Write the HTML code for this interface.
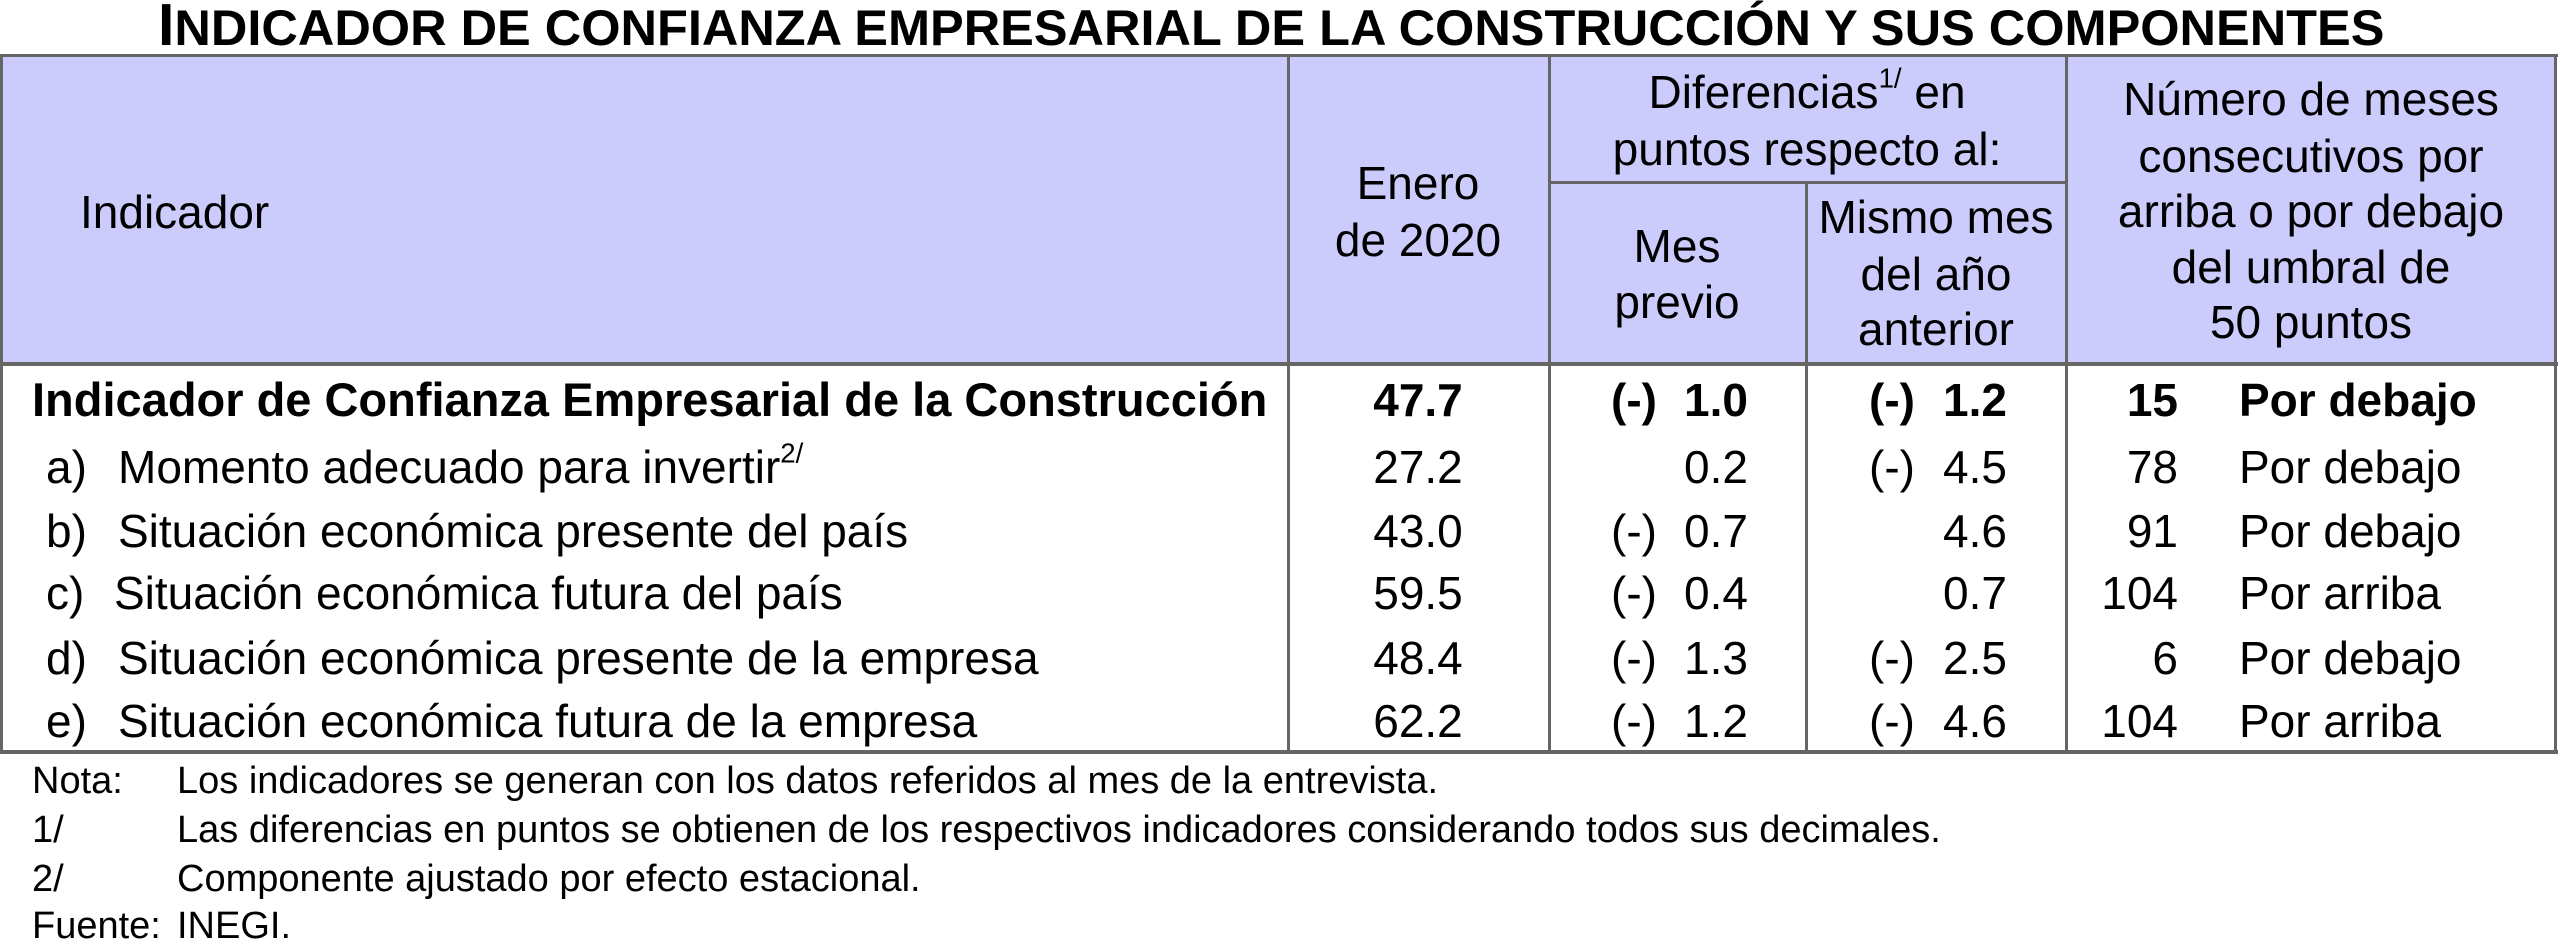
<!DOCTYPE html>
<html><head><meta charset="utf-8"><style>
html,body{margin:0;padding:0;background:#fff;}
body{width:2560px;height:949px;position:relative;overflow:hidden;font-family:"Liberation Sans",Arial,sans-serif;color:#000;}
.t{position:absolute;white-space:nowrap;font-size:46px;line-height:46px;}
.c{transform:translateX(-50%);}
.r{transform:translateX(-100%);}
.b{font-weight:bold;}
.f{font-size:38px;line-height:38px;}
.h{position:absolute;background:#666;}
sup{font-size:0.6em;line-height:0;vertical-align:0.75em;}
#title{position:absolute;left:158px;top:-4px;font-weight:bold;font-size:50.5px;line-height:59px;white-space:nowrap;}
#title .L{font-size:59px;}
</style></head><body>
<div style="position:absolute;left:0;top:55px;width:2556px;height:309px;background:#ccccfc;"></div>
<div id="title"><span class="L">I</span>NDICADOR DE CONFIANZA EMPRESARIAL DE LA CONSTRUCCIÓN Y SUS COMPONENTES</div>

<!-- lines -->
<div class="h" style="left:0;top:54px;width:2558px;height:3px"></div>
<div class="h" style="left:0;top:362px;width:2558px;height:4px"></div>
<div class="h" style="left:0;top:750px;width:2558px;height:4px"></div>
<div class="h" style="left:1549px;top:181px;width:518px;height:3px"></div>
<div class="h" style="left:0;top:55px;width:3px;height:698px"></div>
<div class="h" style="left:1287px;top:55px;width:3px;height:698px"></div>
<div class="h" style="left:1548px;top:55px;width:3px;height:698px"></div>
<div class="h" style="left:1805px;top:182px;width:3px;height:571px"></div>
<div class="h" style="left:2065px;top:55px;width:3px;height:698px"></div>
<div class="h" style="left:2554px;top:55px;width:3px;height:698px"></div>

<!-- header -->
<div class="t" style="left:80px;top:189px">Indicador</div>
<div class="t c" style="left:1418px;top:160px">Enero</div>
<div class="t c" style="left:1418px;top:217px">de 2020</div>
<div class="t c" style="left:1807px;top:69px">Diferencias<sup>1/</sup> en</div>
<div class="t c" style="left:1807px;top:126px">puntos respecto al:</div>
<div class="t c" style="left:1677px;top:223px">Mes</div>
<div class="t c" style="left:1677px;top:279px">previo</div>
<div class="t c" style="left:1936px;top:194px">Mismo mes</div>
<div class="t c" style="left:1936px;top:251px">del año</div>
<div class="t c" style="left:1936px;top:306px">anterior</div>
<div class="t c" style="left:2311px;top:76px">Número de meses</div>
<div class="t c" style="left:2311px;top:133px">consecutivos por</div>
<div class="t c" style="left:2311px;top:188px">arriba o por debajo</div>
<div class="t c" style="left:2311px;top:244px">del umbral de</div>
<div class="t c" style="left:2311px;top:299px">50 puntos</div>

<!-- rows -->
<div class="t b" style="left:32px;top:377px;font-size:47px">Indicador de Confianza Empresarial de la Construcción</div>
<div class="t b c" style="left:1418px;top:377px">47.7</div>
<div class="t b" style="left:1611px;top:377px">(-)</div><div class="t b r" style="left:1748px;top:377px">1.0</div>
<div class="t b" style="left:1869px;top:377px">(-)</div><div class="t b r" style="left:2007px;top:377px">1.2</div>
<div class="t b r" style="left:2178px;top:377px">15</div><div class="t b" style="left:2239px;top:377px">Por debajo</div>

<div class="t" style="left:46px;top:444px">a)</div><div class="t" style="left:118px;top:444px">Momento adecuado para invertir<sup>2/</sup></div>
<div class="t c" style="left:1418px;top:444px">27.2</div>
<div class="t r" style="left:1748px;top:444px">0.2</div>
<div class="t" style="left:1869px;top:444px">(-)</div><div class="t r" style="left:2007px;top:444px">4.5</div>
<div class="t r" style="left:2178px;top:444px">78</div><div class="t" style="left:2239px;top:444px">Por debajo</div>

<div class="t" style="left:46px;top:508px">b)</div><div class="t" style="left:118px;top:508px">Situación económica presente del país</div>
<div class="t c" style="left:1418px;top:508px">43.0</div>
<div class="t" style="left:1611px;top:508px">(-)</div><div class="t r" style="left:1748px;top:508px">0.7</div>
<div class="t r" style="left:2007px;top:508px">4.6</div>
<div class="t r" style="left:2178px;top:508px">91</div><div class="t" style="left:2239px;top:508px">Por debajo</div>

<div class="t" style="left:46px;top:570px">c)</div><div class="t" style="left:114px;top:570px">Situación económica futura del país</div>
<div class="t c" style="left:1418px;top:570px">59.5</div>
<div class="t" style="left:1611px;top:570px">(-)</div><div class="t r" style="left:1748px;top:570px">0.4</div>
<div class="t r" style="left:2007px;top:570px">0.7</div>
<div class="t r" style="left:2178px;top:570px">104</div><div class="t" style="left:2239px;top:570px">Por arriba</div>

<div class="t" style="left:46px;top:635px">d)</div><div class="t" style="left:118px;top:635px">Situación económica presente de la empresa</div>
<div class="t c" style="left:1418px;top:635px">48.4</div>
<div class="t" style="left:1611px;top:635px">(-)</div><div class="t r" style="left:1748px;top:635px">1.3</div>
<div class="t" style="left:1869px;top:635px">(-)</div><div class="t r" style="left:2007px;top:635px">2.5</div>
<div class="t r" style="left:2178px;top:635px">6</div><div class="t" style="left:2239px;top:635px">Por debajo</div>

<div class="t" style="left:46px;top:698px">e)</div><div class="t" style="left:118px;top:698px">Situación económica futura de la empresa</div>
<div class="t c" style="left:1418px;top:698px">62.2</div>
<div class="t" style="left:1611px;top:698px">(-)</div><div class="t r" style="left:1748px;top:698px">1.2</div>
<div class="t" style="left:1869px;top:698px">(-)</div><div class="t r" style="left:2007px;top:698px">4.6</div>
<div class="t r" style="left:2178px;top:698px">104</div><div class="t" style="left:2239px;top:698px">Por arriba</div>

<!-- notes -->
<div class="t f" style="left:32px;top:762px">Nota:</div><div class="t f" style="left:177px;top:762px">Los indicadores se generan con los datos referidos al mes de la entrevista.</div>
<div class="t f" style="left:32px;top:811px">1/</div><div class="t f" style="left:177px;top:811px">Las diferencias en puntos se obtienen de los respectivos indicadores considerando todos sus decimales.</div>
<div class="t f" style="left:32px;top:860px">2/</div><div class="t f" style="left:177px;top:860px">Componente ajustado por efecto estacional.</div>
<div class="t f" style="left:32px;top:907px">Fuente:</div><div class="t f" style="left:177px;top:907px">INEGI.</div>
</body></html>
